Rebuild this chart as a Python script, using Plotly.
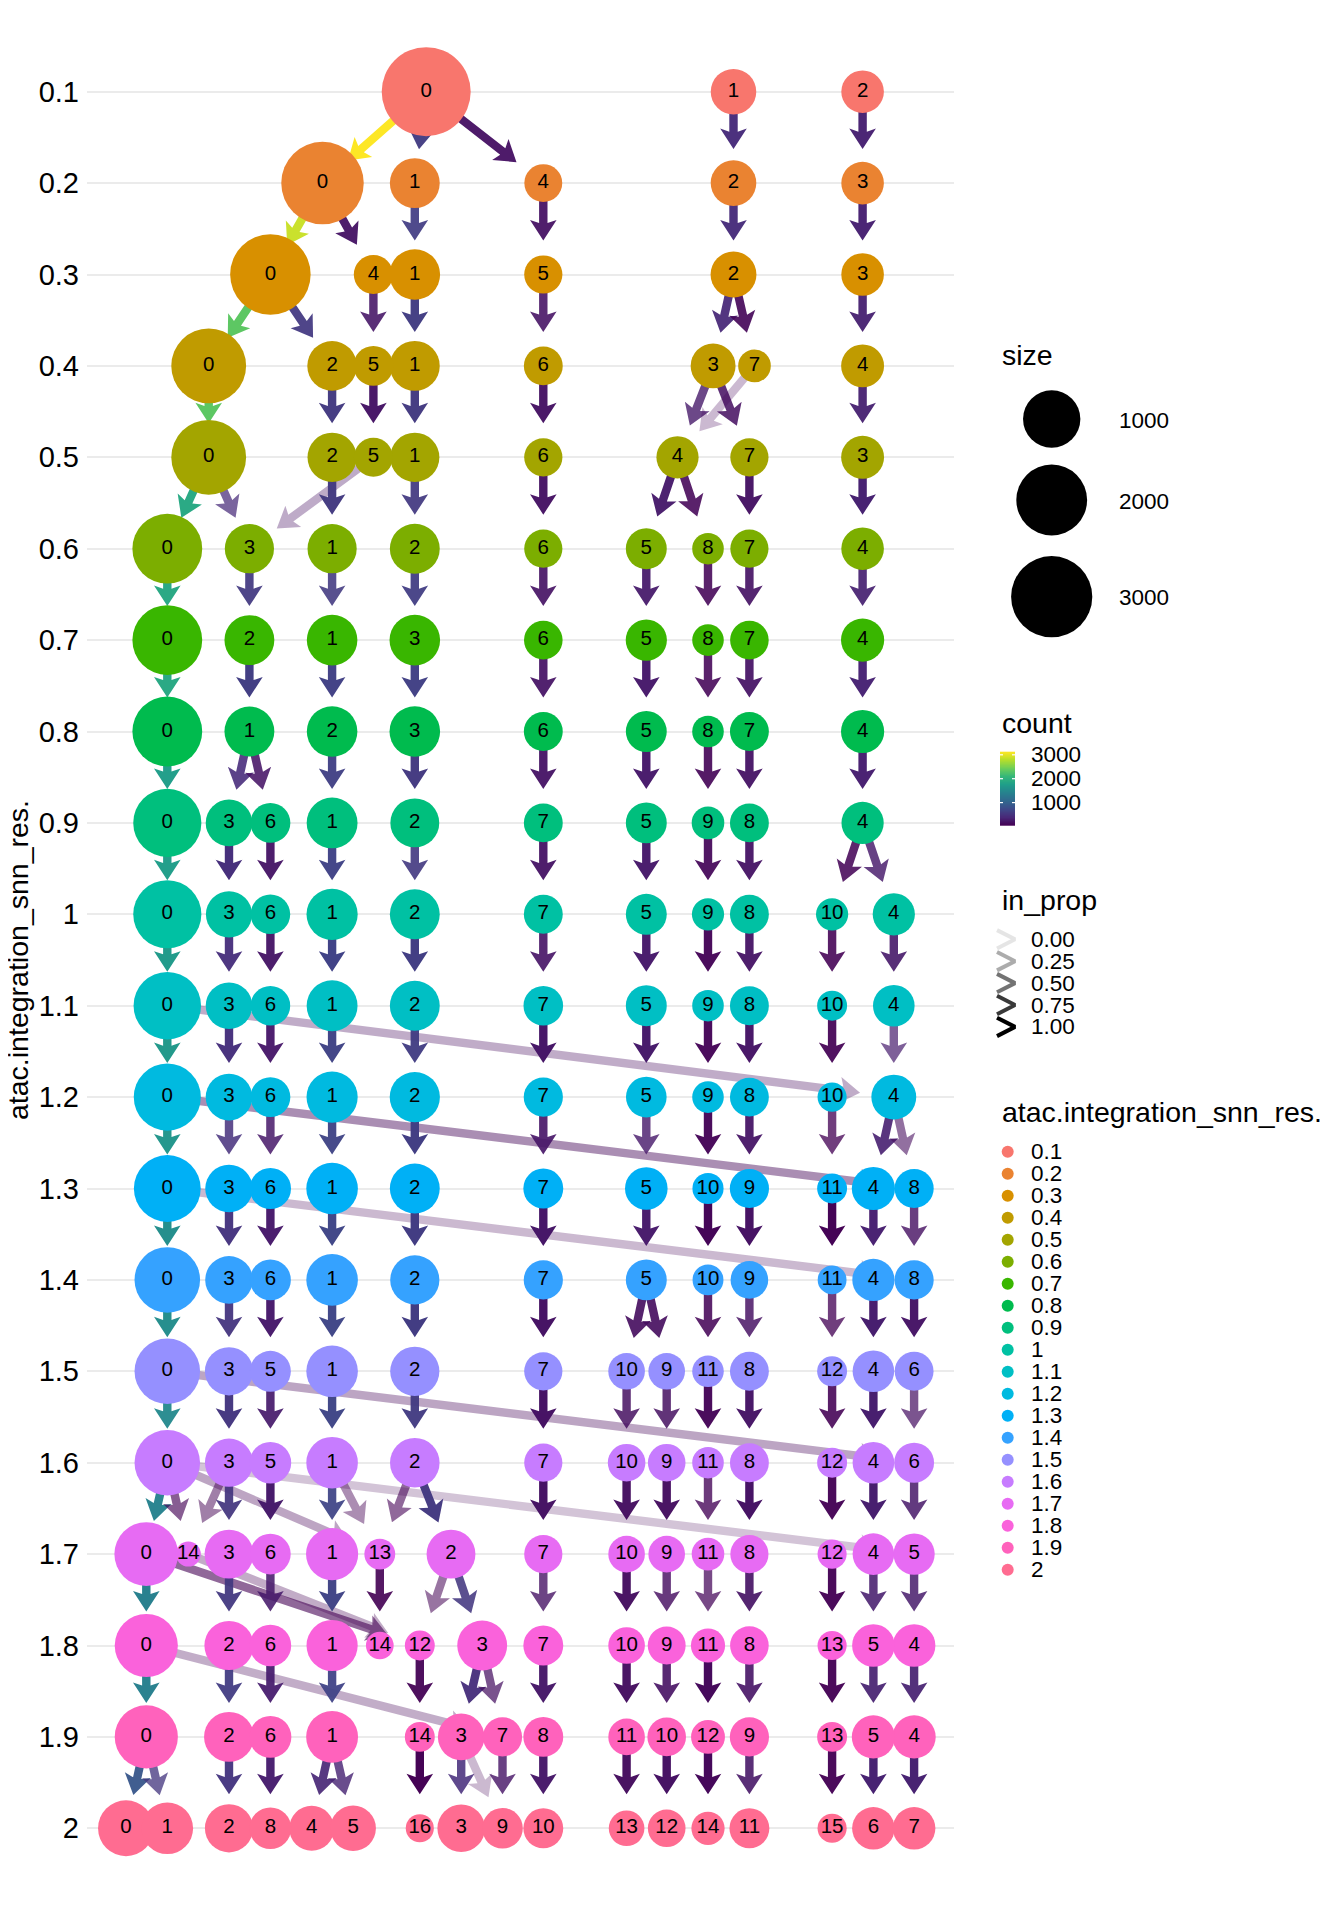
import math
import numpy as np
import plotly.graph_objects as go
from plotly.colors import sample_colorscale

# ---------------- data ----------------
RES = [0.1, 0.2, 0.3, 0.4, 0.5, 0.6, 0.7, 0.8, 0.9, 1.0,
       1.1, 1.2, 1.3, 1.4, 1.5, 1.6, 1.7, 1.8, 1.9, 2.0]
RES_LABELS = ["0.1", "0.2", "0.3", "0.4", "0.5", "0.6", "0.7", "0.8", "0.9", "1",
              "1.1", "1.2", "1.3", "1.4", "1.5", "1.6", "1.7", "1.8", "1.9", "2"]
LEVEL_COLORS = ["#F8766D", "#EA8331", "#D89000", "#C09B00", "#A3A500", "#7CAE00",
                "#39B600", "#00BB4E", "#00BF7D", "#00C1A3", "#00BFC4", "#00BAE0",
                "#00B0F6", "#35A2FF", "#9590FF", "#C77CFF", "#E76BF3", "#FA62DB",
                "#FF62BC", "#FF6C91"]

NODES_PER_LEVEL = [3, 5, 6, 8, 8, 9, 9, 9, 10, 11, 11, 11, 12, 12, 13, 13, 15, 15, 15, 17]
NODE_CLUSTER = [
    0, 1, 2,
    0, 1, 4, 2, 3,
    0, 4, 1, 5, 2, 3,
    0, 2, 5, 1, 6, 3, 7, 4,
    0, 2, 5, 1, 6, 4, 7, 3,
    0, 3, 1, 2, 6, 5, 8, 7, 4,
    0, 2, 1, 3, 6, 5, 8, 7, 4,
    0, 1, 2, 3, 6, 5, 8, 7, 4,
    0, 3, 6, 1, 2, 7, 5, 9, 8, 4,
    0, 3, 6, 1, 2, 7, 5, 9, 8, 10, 4,
    0, 3, 6, 1, 2, 7, 5, 9, 8, 10, 4,
    0, 3, 6, 1, 2, 7, 5, 9, 8, 10, 4,
    0, 3, 6, 1, 2, 7, 5, 10, 9, 11, 4, 8,
    0, 3, 6, 1, 2, 7, 5, 10, 9, 11, 4, 8,
    0, 3, 5, 1, 2, 7, 10, 9, 11, 8, 12, 4, 6,
    0, 3, 5, 1, 2, 7, 10, 9, 11, 8, 12, 4, 6,
    0, 14, 3, 6, 1, 13, 2, 7, 10, 9, 11, 8, 12, 4, 5,
    0, 2, 6, 1, 14, 12, 3, 7, 10, 9, 11, 8, 13, 5, 4,
    0, 2, 6, 1, 14, 3, 7, 8, 11, 10, 12, 9, 13, 5, 4,
    0, 1, 2, 8, 4, 5, 16, 3, 9, 10, 13, 12, 14, 11, 15, 6, 7,
]
NODE_X = [
    426.2, 733.5, 862.6,
    322.5, 414.8, 543.3, 733.5, 862.6,
    270.4, 373.4, 414.8, 543.3, 733.5, 862.6,
    208.7, 332.1, 373.4, 414.8, 543.3, 713.1, 754.5, 862.6,
    208.7, 332.1, 373.4, 414.8, 543.3, 677.5, 749.4, 862.6,
    167.3, 249.4, 332.1, 414.8, 543.3, 646.3, 708.0, 749.4, 862.6,
    167.3, 249.4, 332.1, 414.8, 543.3, 646.3, 708.0, 749.4, 862.6,
    167.3, 249.4, 332.1, 414.8, 543.3, 646.3, 708.0, 749.4, 862.6,
    167.3, 229.0, 270.4, 332.1, 414.8, 543.3, 646.3, 708.0, 749.4, 862.6,
    167.3, 229.0, 270.4, 332.1, 414.8, 543.3, 646.3, 708.0, 749.4, 832.1, 893.8,
    167.3, 229.0, 270.4, 332.1, 414.8, 543.3, 646.3, 708.0, 749.4, 832.1, 893.8,
    167.3, 229.0, 270.4, 332.1, 414.8, 543.3, 646.3, 708.0, 749.4, 832.1, 893.8,
    167.3, 229.0, 270.4, 332.1, 414.8, 543.3, 646.3, 708.0, 749.4, 832.1, 873.4, 914.1,
    167.3, 229.0, 270.4, 332.1, 414.8, 543.3, 646.3, 708.0, 749.4, 832.1, 873.4, 914.1,
    167.3, 229.0, 270.4, 332.1, 414.8, 543.3, 626.6, 666.7, 708.0, 749.4, 832.1, 873.4, 914.1,
    167.3, 229.0, 270.4, 332.1, 414.8, 543.3, 626.6, 666.7, 708.0, 749.4, 832.1, 873.4, 914.1,
    146.3, 188.3, 229.0, 270.4, 332.1, 379.8, 451.0, 543.3, 626.6, 666.7, 708.0, 749.4, 832.1, 873.4, 914.1,
    146.3, 229.0, 270.4, 332.1, 379.8, 419.8, 482.2, 543.3, 626.6, 666.7, 708.0, 749.4, 832.1, 873.4, 914.1,
    146.3, 229.0, 270.4, 332.1, 419.8, 461.2, 502.5, 543.3, 626.6, 666.7, 708.0, 749.4, 832.1, 873.4, 914.1,
    126.0, 167.3, 229.0, 270.4, 311.7, 353.1, 419.8, 461.2, 502.5, 543.3, 626.6, 666.7, 708.0, 749.4, 832.1, 873.4, 914.1,
]
NODE_CELLS = [
    3890, 410, 304,
    3140, 597, 169, 413, 304,
    2926, 202, 631, 176, 424, 304,
    2360, 583, 221, 597, 194, 386, 66, 315,
    2360, 565, 194, 565, 176, 291, 176, 315,
    1913, 565, 565, 597, 176, 251, 52, 176, 304,
    1913, 597, 631, 631, 186, 260, 52, 186, 325,
    1913, 597, 631, 631, 194, 251, 52, 194, 325,
    1772, 453, 221, 645, 551, 194, 251, 66, 194, 291,
    1772, 436, 213, 660, 597, 194, 251, 60, 194, 60, 291,
    1720, 453, 213, 645, 597, 213, 251, 52, 194, 34, 272,
    1690, 453, 221, 660, 612, 202, 242, 52, 194, 27, 386,
    1668, 490, 260, 680, 597, 221, 304, 47, 202, 34, 325, 202,
    1567, 494, 251, 680, 565, 202, 251, 44, 162, 25, 291, 202,
    1567, 520, 251, 680, 565, 176, 139, 139, 52, 194, 34, 272, 194,
    1567, 520, 272, 680, 583, 176, 162, 162, 52, 194, 34, 272, 221,
    1440, 11, 551, 242, 710, 44, 551, 176, 139, 139, 66, 176, 27, 272, 260,
    1389, 565, 272, 660, 18, 34, 597, 221, 139, 169, 91, 186, 27, 304, 304,
    1389, 597, 282, 695, 34, 453, 202, 221, 139, 186, 86, 202, 34, 325, 325,
    913, 680, 520, 272, 386, 413, 20, 494, 242, 221, 118, 162, 75, 221, 27, 304, 304,
]

# edges: from level k to level k+1
EDGES_PER_LEVEL = [5, 6, 8, 9, 10, 9, 9, 10, 11, 11, 12, 13, 13, 13, 14, 19, 17, 16, 18]
EDGE_FROM = [
    0, 0, 0, 1, 2,
    0, 0, 1, 4, 2, 3,
    0, 0, 4, 1, 5, 2, 2, 3,
    0, 2, 5, 1, 6, 3, 3, 7, 4,
    0, 0, 5, 2, 1, 6, 4, 4, 7, 3,
    0, 3, 1, 2, 6, 5, 8, 7, 4,
    0, 2, 1, 3, 6, 5, 8, 7, 4,
    0, 1, 1, 2, 3, 6, 5, 8, 7, 4,
    0, 3, 6, 1, 2, 7, 5, 9, 8, 4, 4,
    0, 3, 6, 1, 2, 7, 5, 9, 8, 10, 4,
    0, 0, 3, 6, 1, 2, 7, 5, 9, 8, 10, 4,
    0, 0, 3, 6, 1, 2, 7, 5, 9, 8, 10, 4, 4,
    0, 0, 3, 6, 1, 2, 7, 5, 10, 9, 11, 4, 8,
    0, 3, 6, 1, 2, 7, 5, 5, 10, 9, 11, 4, 8,
    0, 0, 3, 5, 1, 2, 7, 10, 9, 11, 8, 12, 4, 6,
    0, 0, 0, 0, 3, 3, 5, 1, 1, 2, 2, 7, 10, 9, 11, 8, 12, 4, 6,
    0, 0, 14, 3, 6, 1, 13, 2, 2, 7, 10, 9, 11, 8, 12, 4, 5,
    0, 0, 2, 6, 1, 12, 3, 3, 7, 10, 9, 11, 8, 13, 5, 4,
    0, 0, 2, 6, 1, 1, 14, 3, 3, 7, 8, 11, 10, 12, 9, 13, 5, 4,
]
EDGE_TO = [
    0, 1, 4, 2, 3,
    0, 4, 1, 5, 2, 3,
    0, 2, 5, 1, 6, 3, 7, 4,
    0, 2, 5, 1, 6, 4, 7, 4, 3,
    0, 3, 3, 1, 2, 6, 5, 8, 7, 4,
    0, 2, 1, 3, 6, 5, 8, 7, 4,
    0, 1, 2, 3, 6, 5, 8, 7, 4,
    0, 3, 6, 1, 2, 7, 5, 9, 8, 4,
    0, 3, 6, 1, 2, 7, 5, 9, 8, 10, 4,
    0, 3, 6, 1, 2, 7, 5, 9, 8, 10, 4,
    0, 4, 3, 6, 1, 2, 7, 5, 9, 8, 10, 4,
    0, 8, 3, 6, 1, 2, 7, 5, 10, 9, 11, 4, 8,
    0, 8, 3, 6, 1, 2, 7, 5, 10, 9, 11, 4, 8,
    0, 3, 5, 1, 2, 7, 10, 9, 11, 8, 12, 4, 6,
    0, 6, 3, 5, 1, 2, 7, 10, 9, 11, 8, 12, 4, 6,
    0, 14, 13, 5, 14, 3, 6, 1, 13, 13, 2, 7, 10, 9, 11, 8, 12, 4, 5,
    0, 12, 12, 2, 6, 1, 14, 12, 3, 7, 10, 9, 11, 8, 13, 5, 4,
    0, 7, 2, 6, 1, 14, 3, 7, 8, 11, 10, 12, 9, 13, 5, 4,
    0, 1, 2, 8, 4, 5, 16, 3, 9, 9, 10, 13, 12, 14, 11, 15, 6, 7,
]
EDGE_COUNT = [
    3130, 570, 160, 400, 295,
    2880, 195, 580, 165, 405, 295,
    2330, 545, 195, 585, 170, 360, 60, 300,
    2330, 555, 190, 555, 170, 225, 150, 58, 300,
    1880, 390, 160, 555, 555, 170, 240, 45, 170, 300,
    1870, 555, 555, 590, 170, 245, 45, 170, 300,
    1870, 590, 620, 620, 180, 245, 45, 180, 315,
    1740, 400, 190, 620, 540, 185, 245, 45, 185, 285,
    1730, 430, 205, 640, 540, 185, 245, 55, 185, 50, 235,
    1700, 430, 205, 640, 590, 190, 245, 50, 185, 30, 245,
    1670, 105, 445, 210, 645, 590, 200, 240, 50, 190, 25, 260,
    1640, 80, 450, 215, 655, 590, 200, 240, 45, 190, 25, 290, 110,
    1550, 40, 480, 245, 670, 560, 200, 245, 44, 160, 25, 285, 160,
    1540, 490, 245, 670, 560, 175, 125, 125, 44, 160, 25, 270, 190,
    1490, 65, 510, 250, 670, 560, 175, 135, 135, 50, 190, 30, 270, 150,
    1400, 22, 24, 38, 21, 510, 240, 660, 25, 28, 540, 175, 135, 135, 50, 175, 26, 270, 215,
    1370, 24, 20, 530, 235, 650, 30, 24, 520, 170, 135, 135, 64, 170, 26, 265, 255,
    1360, 50, 560, 265, 650, 32, 430, 140, 215, 135, 165, 85, 180, 26, 300, 300,
    870, 500, 500, 265, 350, 330, 22, 420, 48, 190, 215, 115, 160, 75, 195, 26, 300, 300,
]
EDGE_IN_PROP = [
    1.00, 0.96, 0.95, 0.97, 0.97,
    0.98, 0.96, 0.92, 0.94, 0.96, 0.97,
    0.99, 0.93, 0.88, 0.98, 0.88, 0.93, 0.90, 0.95,
    0.99, 0.98, 0.98, 0.98, 0.97, 0.77, 0.85, 0.20, 0.95,
    0.98, 0.69, 0.28, 0.98, 0.93, 0.97, 0.96, 0.87, 0.97, 0.99,
    0.98, 0.93, 0.88, 0.94, 0.91, 0.94, 0.87, 0.91, 0.92,
    0.98, 0.99, 0.98, 0.98, 0.93, 0.98, 0.87, 0.93, 0.97,
    0.98, 0.88, 0.86, 0.96, 0.98, 0.95, 0.98, 0.90, 0.95, 0.98,
    0.98, 0.99, 0.96, 0.97, 0.90, 0.95, 0.98, 0.92, 0.95, 0.85, 0.81,
    0.99, 0.95, 0.96, 0.99, 0.99, 0.90, 0.98, 0.96, 0.95, 0.88, 0.90,
    0.99, 0.27, 0.98, 0.95, 0.98, 0.96, 0.99, 0.99, 0.96, 0.98, 0.93, 0.67,
    0.98, 0.40, 0.84, 0.83, 0.96, 0.99, 0.90, 0.79, 0.96, 0.94, 0.74, 0.89, 0.54,
    0.99, 0.20, 0.97, 0.98, 0.98, 0.99, 0.99, 0.98, 0.99, 0.99, 0.99, 0.98, 0.79,
    0.98, 0.94, 0.98, 0.98, 0.99, 0.99, 0.90, 0.90, 0.85, 0.82, 0.74, 0.99, 0.98,
    0.95, 0.29, 0.98, 0.92, 0.98, 0.96, 0.99, 0.83, 0.83, 0.96, 0.98, 0.88, 0.99, 0.68,
    0.97, 0.60, 0.28, 0.15, 0.45, 0.93, 0.99, 0.93, 0.39, 0.55, 0.98, 0.99, 0.97, 0.97, 0.76, 0.99, 0.96, 0.99, 0.83,
    0.99, 0.55, 0.25, 0.94, 0.86, 0.98, 0.90, 0.50, 0.87, 0.77, 0.97, 0.80, 0.70, 0.91, 0.96, 0.87, 0.84,
    0.98, 0.25, 0.94, 0.94, 0.94, 0.94, 0.95, 0.69, 0.97, 0.97, 0.89, 0.99, 0.89, 0.96, 0.92, 0.92,
    0.95, 0.74, 0.96, 0.97, 0.91, 0.80, 0.99, 0.85, 0.20, 0.79, 0.97, 0.97, 0.99, 0.99, 0.88, 0.96, 0.99, 0.99,
]

SIZE_BREAKS = [1000, 2000, 3000]
COUNT_BREAKS = [1000, 2000, 3000]
PROP_BREAKS = [0.0, 0.25, 0.5, 0.75, 1.0]
PROP_LABELS = ["0.00", "0.25", "0.50", "0.75", "1.00"]

assert sum(NODES_PER_LEVEL) == len(NODE_CLUSTER) == len(NODE_X) == len(NODE_CELLS)
assert sum(EDGES_PER_LEVEL) == len(EDGE_FROM) == len(EDGE_TO) == len(EDGE_COUNT) == len(EDGE_IN_PROP)

# ---------------- layout constants (page pixel coordinates) ----------------
W, H = 1344, 1920
BODY_OFF = 8               # default <body> margin of the html page
ML, MR, MT, MB = 87, 20, 40, 40
PW, PH = W - ML - MR, H - MT - MB
MAIN_RIGHT = 954
LEG_LEFT = 990
LEVEL0_PX, LEVEL_STEP_PX = 91.7, 91.4
PX_PER_UNIT = LEVEL_STEP_PX / (RES[1] - RES[0])
Y_TOP = RES[0] - (LEVEL0_PX - MT) / PX_PER_UNIT
Y_BOT = Y_TOP + PH / PX_PER_UNIT
FONT = "Liberation Sans, Arial, Helvetica, sans-serif"

D_MIN, D_MAX = 25.0, 89.0
V_MIN, V_MAX = min(NODE_CELLS), max(NODE_CELLS)


def diam(v):
    return D_MIN + (D_MAX - D_MIN) * math.sqrt(max(v - V_MIN, 0) / (V_MAX - V_MIN))


def px_y(v):
    return MT + (v - Y_TOP) * PX_PER_UNIT


def val_y(p):
    return Y_TOP + (p - MT) / PX_PER_UNIT


C_MIN, C_MAX = min(EDGE_COUNT), max(EDGE_COUNT)


def edge_rgb(c):
    col = sample_colorscale("Viridis", [(c - C_MIN) / (C_MAX - C_MIN)])[0]
    return [float(t) for t in col[col.index("(") + 1:col.index(")")].split(",")]


def prop_alpha(p):
    return 0.1 + 0.9 * p


CAP, HEAD_L, HEAD_HW, NOTCH, SHAFT_HW = 34.0, 20.5, 13.3, 16.0, 4.2

node_lookup = {}
level_of_node = np.repeat(np.arange(len(RES)), NODES_PER_LEVEL)
for i, lv in enumerate(level_of_node):
    node_lookup[(int(lv), NODE_CLUSTER[i])] = (NODE_X[i], NODE_CELLS[i])

fig = go.Figure()

# ---------------- edges ----------------
level_of_edge = np.repeat(np.arange(len(RES) - 1), EDGES_PER_LEVEL)
for k, lv in enumerate(level_of_edge):
    lv = int(lv)
    sx, _ = node_lookup[(lv, EDGE_FROM[k])]
    tx, _ = node_lookup[(lv + 1, EDGE_TO[k])]
    sy, ty = px_y(RES[lv]), px_y(RES[lv + 1])
    dx, dy = tx - sx, ty - sy
    L = math.hypot(dx, dy)
    ux, uy = dx / L, dy / L
    nx, ny = -uy, ux
    tipx, tipy = tx - CAP * ux, ty - CAP * uy
    bx, by = tipx - HEAD_L * ux, tipy - HEAD_L * uy
    s = SHAFT_HW / HEAD_HW
    back = NOTCH + s * (HEAD_L - NOTCH)
    px_, py_ = tipx - back * ux, tipy - back * uy
    pts = [
        (sx + SHAFT_HW * nx, sy + SHAFT_HW * ny),
        (px_ + SHAFT_HW * nx, py_ + SHAFT_HW * ny),
        (bx + HEAD_HW * nx, by + HEAD_HW * ny),
        (tipx, tipy),
        (bx - HEAD_HW * nx, by - HEAD_HW * ny),
        (px_ - SHAFT_HW * nx, py_ - SHAFT_HW * ny),
        (sx - SHAFT_HW * nx, sy - SHAFT_HW * ny),
    ]
    r, g, b = edge_rgb(EDGE_COUNT[k])
    a = prop_alpha(EDGE_IN_PROP[k])
    fig.add_trace(go.Scatter(
        x=[p[0] for p in pts] + [pts[0][0]],
        y=[val_y(p[1]) for p in pts] + [val_y(pts[0][1])],
        mode="lines", fill="toself",
        fillcolor=f"rgba({r:.0f},{g:.0f},{b:.0f},{a:.3f})",
        line=dict(width=0, color="rgba(0,0,0,0)"),
        hoverinfo="skip", showlegend=False, xaxis="x", yaxis="y"))

# ---------------- nodes ----------------
start = 0
for lv, n in enumerate(NODES_PER_LEVEL):
    idx = list(range(start, start + n))
    start += n
    idx.sort(key=lambda i: NODE_CLUSTER[i])
    fig.add_trace(go.Scatter(
        x=[NODE_X[i] for i in idx],
        y=[RES[lv]] * n,
        mode="markers+text",
        marker=dict(size=[diam(NODE_CELLS[i]) for i in idx], color=LEVEL_COLORS[lv],
                    opacity=1, line=dict(width=0)),
        text=[str(NODE_CLUSTER[i]) for i in idx],
        textposition="middle center",
        textfont=dict(family=FONT, size=20.5, color="black"),
        cliponaxis=False, hoverinfo="skip", showlegend=False, xaxis="x", yaxis="y"))

# ---------------- legends (page-pixel axis) ----------------
annotations = []


def leg_text(x, y, txt, size):
    annotations.append(dict(x=x, y=y, xref="x2", yref="y2", text=txt, showarrow=False,
                            xanchor="left", yanchor="middle",
                            font=dict(family=FONT, size=size, color="black")))


TITLE_FS, LAB_FS = 28.5, 22.5

# size legend
leg_text(1000, 354.7, "size", TITLE_FS)
SIZE_KEY_Y = [419.0, 500.0, 596.7]
fig.add_trace(go.Scatter(x=[1051.7] * 3, y=SIZE_KEY_Y, mode="markers",
                         marker=dict(size=[diam(v) for v in SIZE_BREAKS], color="#000000",
                                     opacity=1, line=dict(width=0)),
                         hoverinfo="skip", showlegend=False, xaxis="x2", yaxis="y2",
                         cliponaxis=False))
for yv, v in zip(SIZE_KEY_Y, SIZE_BREAKS):
    leg_text(1117, yv + 1, str(v), LAB_FS)

# count colourbar
leg_text(1000, 723.0, "count", TITLE_FS)
CB_L, CB_R, CB_TOP, CB_BOT = 1000.0, 1015.0, 751.7, 826.0
NB = 200
cb_vals = np.linspace(C_MIN, C_MAX, NB)
fig.add_trace(go.Heatmap(z=cb_vals.reshape(-1, 1), x=[CB_L, CB_R],
                         y=np.linspace(CB_BOT, CB_TOP, NB + 1),
                         colorscale="Viridis", zmin=C_MIN, zmax=C_MAX, showscale=False,
                         hoverinfo="skip", xaxis="x2", yaxis="y2"))
for v in COUNT_BREAKS:
    yv = CB_BOT - (v - C_MIN) / (C_MAX - C_MIN) * (CB_BOT - CB_TOP)
    for x0, x1 in [(CB_L, CB_L + 3), (CB_R - 3, CB_R)]:
        fig.add_trace(go.Scatter(x=[x0, x1], y=[yv, yv], mode="lines",
                                 line=dict(color="white", width=1.2),
                                 hoverinfo="skip", showlegend=False, xaxis="x2", yaxis="y2"))
    leg_text(1029, yv, str(v), LAB_FS)

# in_prop legend
leg_text(1000, 899.7, "in_prop", TITLE_FS)
for i, (p, lab) in enumerate(zip(PROP_BREAKS, PROP_LABELS)):
    yc = 939.3 + 21.9 * i
    fig.add_trace(go.Scatter(x=[997, 1015, 997], y=[yc - 9.2, yc, yc + 9.2], mode="lines",
                             line=dict(color=f"rgba(0,0,0,{prop_alpha(p):.3f})", width=4),
                             hoverinfo="skip", showlegend=False, xaxis="x2", yaxis="y2"))
    leg_text(1029, yc, lab, LAB_FS)

# resolution legend
leg_text(1000, 1112.4, "atac.integration_snn_res.", TITLE_FS)
ITEM_Y = [1151.7 + 22.0 * i for i in range(len(RES))]
fig.add_trace(go.Scatter(x=[1007.7] * len(RES), y=ITEM_Y, mode="markers",
                         marker=dict(size=12, color=LEVEL_COLORS, opacity=1, line=dict(width=0)),
                         hoverinfo="skip", showlegend=False, xaxis="x2", yaxis="y2"))
for yv, lab in zip(ITEM_Y, RES_LABELS):
    leg_text(1029, yv, lab, LAB_FS)

# y axis title
annotations.append(dict(x=(18 - ML) / PW, y=0.5, xref="paper", yref="paper",
                        text="atac.integration_snn_res.", showarrow=False, textangle=-90,
                        xanchor="center", yanchor="middle",
                        font=dict(family=FONT, size=28.5, color="black")))

fig.update_layout(
    width=W - BODY_OFF, height=H - BODY_OFF,
    margin=dict(l=ML - BODY_OFF, r=MR, t=MT - BODY_OFF, b=MB, pad=0),
    paper_bgcolor="white", plot_bgcolor="white",
    showlegend=False,
    xaxis=dict(domain=[0, (MAIN_RIGHT - ML) / PW], range=[ML, MAIN_RIGHT],
               showgrid=False, zeroline=False, showticklabels=False, ticks="",
               showline=False, fixedrange=True),
    yaxis=dict(range=[Y_BOT, Y_TOP], tickvals=RES, ticktext=RES_LABELS,
               showgrid=True, gridcolor="#EBEBEB", gridwidth=2, zeroline=False,
               showline=False, ticks="", ticklabelstandoff=7,
               tickfont=dict(family=FONT, size=29, color="black"), anchor="x"),
    xaxis2=dict(domain=[(LEG_LEFT - ML) / PW, 1], range=[LEG_LEFT, W - MR], anchor="y2",
                visible=False),
    yaxis2=dict(domain=[0, 1], range=[H - MB, MT], anchor="x2", visible=False),
    annotations=annotations,
    font=dict(family=FONT),
)

fig.write_html("out.html")
